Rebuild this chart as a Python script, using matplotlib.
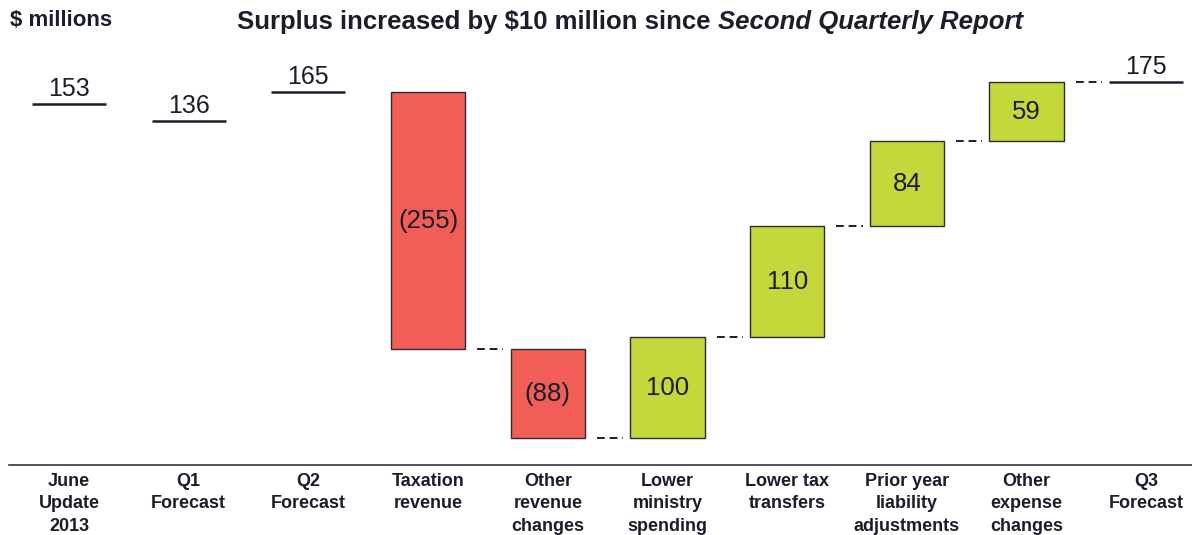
import matplotlib
matplotlib.use("Agg")
import matplotlib.pyplot as plt

# Data
categories = ["June\nUpdate\n2013", "Q1\nForecast", "Q2\nForecast", "Taxation\nrevenue",
              "Other\nrevenue\nchanges", "Lower\nministry\nspending", "Lower tax\ntransfers",
              "Prior year\nliability\nadjustments", "Other\nexpense\nchanges", "Q3\nForecast"]
levels = {0: 153, 1: 136, 2: 165, 9: 175}          # forecast totals
changes = [-255, -88, 100, 110, 84, 59]             # bridge from Q2 to Q3
change_labels = ["(255)", "(88)", "100", "110", "84", "59"]

plt.rcParams["font.family"] = ["Liberation Sans", "DejaVu Sans"]
TEXT = "#1c1c2c"
RED = "#F05E57"
GREEN = "#C4D83C"
EDGE = "#2a2a3a"

fig = plt.figure(figsize=(11.92, 5.35), dpi=100)
ax = fig.add_axes([0, 0, 1, 1])
ax.set_xlim(-0.576, 9.382)
ax.set_ylim(-274.2, 256.2)
ax.axis("off")

bw = 0.62
# Level markers
for i, v in levels.items():
    ax.plot([i - bw / 2, i + bw / 2], [v, v], color=TEXT, lw=1.8, solid_capstyle="butt")
    ax.annotate(str(v), (i, v), xytext=(0, 2), textcoords="offset points",
                ha="center", va="bottom", fontsize=18, color=TEXT)

# Waterfall bars
start = levels[2]
for k, d in enumerate(changes):
    i = 3 + k
    end = start + d
    lo, hi = min(start, end), max(start, end)
    ax.bar(i, hi - lo, bottom=lo, width=bw, color=RED if d < 0 else GREEN,
           edgecolor=EDGE, linewidth=1.0)
    ax.text(i, (lo + hi) / 2, change_labels[k], ha="center", va="center",
            fontsize=18.5, color=TEXT)
    # connector to next item
    ax.plot([i + bw / 2 + 0.1, i + 1 - bw / 2 - 0.06], [end, end], color=TEXT,
            lw=1.4, linestyle=(0, (4, 2.5)))
    start = end

# Baseline
ax.plot([-0.5, 9.4], [-204.8, -204.8], color="#333340", lw=1.2)

# Category labels
for i, c in enumerate(categories):
    ax.text(i, -213, c, ha="center", va="top", fontsize=13, fontweight="bold",
            color=TEXT, linespacing=1.4)

fig.text(10 / 1192, 1 - 20 / 535, "$ millions", ha="left", va="center",
         fontsize=16, fontweight="bold", color=TEXT)

# Title in two styles
t1 = fig.text(0, 1 - 22 / 535, "Surplus increased by $10 million since ", ha="left",
              va="center", fontsize=18.5, fontweight="bold", color=TEXT)
t2 = fig.text(0, 1 - 22 / 535, "Second Quarterly Report", ha="left", va="center",
              fontsize=18.5, fontweight="bold", style="italic", color=TEXT)
fig.canvas.draw()
r = fig.canvas.get_renderer()
w1 = t1.get_window_extent(r).width
w2 = t2.get_window_extent(r).width
x0 = (630 - (w1 + w2) / 2)
t1.set_x(x0 / 1192)
t2.set_x((x0 + w1) / 1192)

fig.savefig("out.png", dpi=100, facecolor="white")
